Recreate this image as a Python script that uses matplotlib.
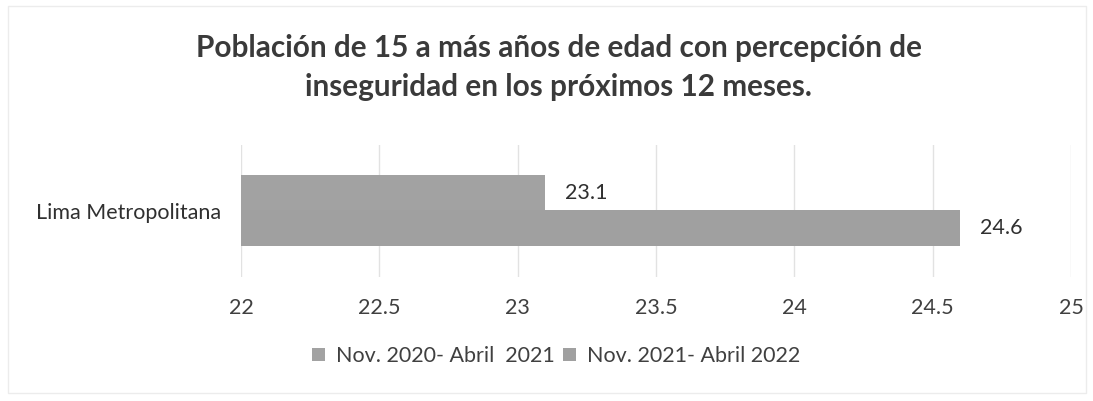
import matplotlib
matplotlib.use("Agg")
import matplotlib.pyplot as plt
from matplotlib.patches import Rectangle

categories = ["Lima Metropolitana"]
series_names = ["Nov. 2020- Abril  2021", "Nov. 2021- Abril 2022"]
series_values = [[23.1], [24.6]]
bar_colors = ["#a2a2a2", "#a0a0a0"]
xticks = [22, 22.5, 23, 23.5, 24, 24.5, 25]
xtick_labels = ["22", "22.5", "23", "23.5", "24", "24.5", "25"]
title = "Población de 15 a más años de edad con percepción de\ninseguridad en los próximos 12 meses."

plt.rcParams['font.family'] = ['Lato', 'DejaVu Sans']

fig = plt.figure(figsize=(10.93, 4.01), dpi=100)
ax = fig.add_axes([241/1093, 1-277/401, (1071-241)/1093, 132/401])

h = 0.27
offsets = [0.135, -0.13]
for vals, name, col, off in zip(series_values, series_names, bar_colors, offsets):
    ys = [0 + off for _ in vals]
    ax.barh(ys, [v - 22 for v in vals], left=22, height=h, color=col, label=name)
    for y, v in zip(ys, vals):
        ax.text(v + 0.07, y, f"{v}", va="center", ha="left", fontsize=15.5, color="#303030")

ax.set_xlim(22, 25)
ax.set_ylim(-0.5, 0.5)
ax.set_xticks(xticks)
ax.set_xticklabels(xtick_labels, fontsize=15.5, color="#404040")
ax.set_yticks([0])
ax.set_yticklabels(categories, fontsize=15.5, color="#303030")
ax.tick_params(axis="both", length=0)
ax.tick_params(axis="x", pad=15)
ax.tick_params(axis="y", pad=14)
ax.grid(axis="x", color="#e2e2e2", linewidth=1)
ax.set_axisbelow(True)
for s in ax.spines.values():
    s.set_visible(False)

fig.text(0.511, 1-67.5/401, title, ha="center", va="center", fontsize=21.4,
         fontweight="bold", color="#3a3a3a", linespacing=1.45)

handles, labels = ax.get_legend_handles_labels()
leg = fig.legend(handles, labels, loc="center", bbox_to_anchor=(0.509, 1-356/401), ncol=2,
                 frameon=False, fontsize=15.5, handlelength=0.6, handleheight=0.6,
                 columnspacing=0.4, handletextpad=0.5, labelcolor="#404040")

fig.patches.append(Rectangle((8/1093, 8/401), (1086-8)/1093, (395-8)/401, transform=fig.transFigure,
                             fill=False, edgecolor="#ececec", linewidth=1))

fig.savefig("out.png", dpi=100, facecolor="white")
